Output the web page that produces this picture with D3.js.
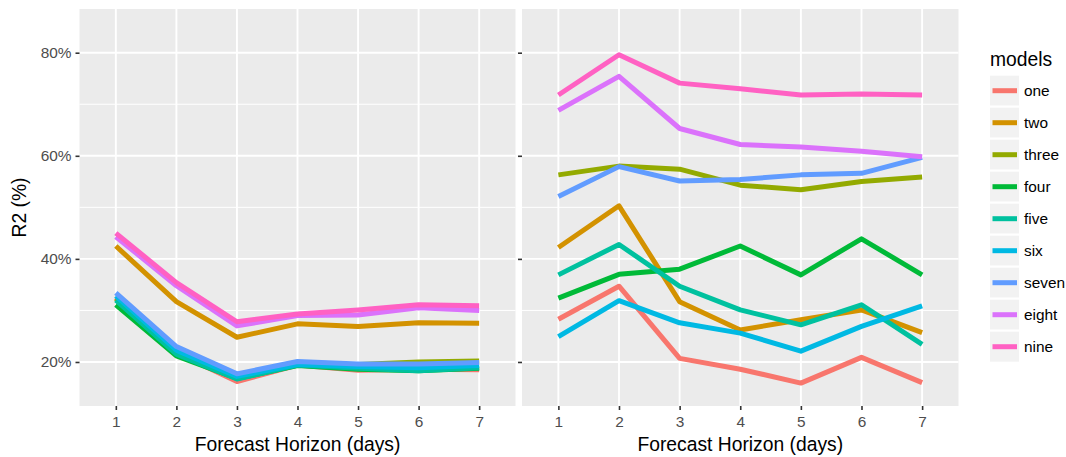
<!DOCTYPE html>
<html><head><meta charset="utf-8">
<script src="https://cdn.jsdelivr.net/npm/d3@7"></script>
<style>body{margin:0;background:#fff}svg{display:block}text{font-family:"Liberation Sans",Arial,sans-serif}</style>
</head><body><svg id="c" width="1066" height="457"></svg>
<script>
const horizons = [1,2,3,4,5,6,7];
const models = ["one","two","three","four","five","six","seven","eight","nine"];
const colors = ["#F8766D","#D39200","#93AA00","#00BA38","#00C19F","#00B9E3","#619CFF","#DB72FB","#FF61C3"];
const yTicks = [20,40,60,80];
const yMinor = [30,50,70];
// left panel values (%)
const left_one   = [32.5,21.8,16.2,19.4,18.4,18.6,18.5];
const left_two   = [42.5,31.7,24.8,27.4,26.9,27.6,27.5];
const left_three = [32.3,22.0,17.0,19.6,19.5,20.0,20.2];
const left_four  = [31.1,21.2,16.8,19.3,18.6,18.3,18.8];
const left_five  = [32.0,21.5,16.7,19.4,18.8,18.3,18.9];
const left_six   = [32.8,22.3,17.2,19.5,19.1,18.9,19.3];
const left_seven = [33.4,23.0,17.7,20.1,19.6,19.6,19.9];
const left_eight = [44.3,34.8,27.0,29.0,29.1,30.5,30.0];
const left_nine  = [45.0,35.4,27.8,29.3,30.1,31.1,30.9];
// right panel values (%)
const right_one   = [28.3,34.7,20.7,18.6,15.9,20.9,16.0];
const right_two   = [42.2,50.3,31.7,26.2,28.2,30.1,25.7];
const right_three = [56.3,58.0,57.4,54.3,53.4,55.0,55.9];
const right_four  = [32.4,37.0,38.0,42.5,36.9,43.9,36.9];
const right_five  = [36.9,42.8,34.7,30.1,27.2,31.1,23.4];
const right_six   = [24.9,31.9,27.6,25.6,22.1,26.9,30.9];
const right_seven = [52.1,57.9,55.1,55.4,56.3,56.6,59.7];
const right_eight = [68.8,75.4,65.3,62.2,61.7,60.9,59.8];
const right_nine  = [71.8,79.6,74.1,73.0,71.8,72.0,71.8];

const leftSeries = [left_one,left_two,left_three,left_four,left_five,left_six,left_seven,left_eight,left_nine];
const rightSeries = [right_one,right_two,right_three,right_four,right_five,right_six,right_seven,right_eight,right_nine];

const svg = d3.select("#c");
const pTop = 9, pBottom = 406;
const y = d3.scaleLinear().domain([11.46, 88.48]).range([pBottom, pTop]);
const panels = [{x0:79.5,x1:515.5,data:leftSeries,ticks:true},{x0:522,x1:958.5,data:rightSeries,ticks:false}];

panels.forEach(p => {
  const x = d3.scaleLinear().domain([0.4,7.6]).range([p.x0,p.x1]);
  const g = svg.append("g");
  g.append("rect").attr("x",p.x0).attr("y",pTop).attr("width",p.x1-p.x0).attr("height",pBottom-pTop).attr("fill","#EBEBEB");
  g.selectAll(".ym").data(yMinor).join("line").attr("x1",p.x0).attr("x2",p.x1)
    .attr("y1",d=>y(d)).attr("y2",d=>y(d)).attr("stroke","#fff").attr("stroke-width",1);
  g.selectAll(".yM").data(yTicks).join("line").attr("x1",p.x0).attr("x2",p.x1)
    .attr("y1",d=>y(d)).attr("y2",d=>y(d)).attr("stroke","#fff").attr("stroke-width",1.9);
  g.selectAll(".xM").data(horizons).join("line").attr("y1",pTop).attr("y2",pBottom)
    .attr("x1",d=>x(d)).attr("x2",d=>x(d)).attr("stroke","#fff").attr("stroke-width",1.9);
  const line = d3.line().x((d,i)=>x(horizons[i])).y(d=>y(d));
  p.data.forEach((s,i)=>{
    g.append("path").attr("d",line(s)).attr("fill","none").attr("stroke",colors[i])
      .attr("stroke-width",5).attr("stroke-linejoin","round").attr("stroke-linecap","butt");
  });
  // x axis
  const xa = svg.append("g").attr("transform",`translate(0,${pBottom})`)
    .call(d3.axisBottom(x).tickValues(horizons).tickSize(4).tickPadding(4));
  xa.select(".domain").remove();
  xa.selectAll("line").attr("stroke","#333").attr("stroke-width",1.6);
  xa.selectAll("text").attr("fill","#4D4D4D").style("font-size","15.4px").attr("dy","0.85em");
  svg.append("text").attr("x",(p.x0+p.x1)/2).attr("y",450.5).attr("text-anchor","middle")
    .style("font-size","19.3px").attr("fill","#000").text("Forecast Horizon (days)");
  // y axis
  const ya = svg.append("g").attr("transform",`translate(${p.x0},0)`)
    .call(d3.axisLeft(y).tickValues(yTicks).tickSize(4).tickPadding(4).tickFormat(d=>d+"%"));
  ya.select(".domain").remove();
  ya.selectAll("line").attr("stroke","#333").attr("stroke-width",1.6);
  ya.selectAll("text").attr("fill","#4D4D4D").style("font-size","15.4px");
  if(!p.ticks) ya.selectAll("text").remove();
});

svg.append("text").attr("transform",`translate(25.5,${(pTop+pBottom)/2}) rotate(-90)`)
  .attr("text-anchor","middle").style("font-size","19.3px").attr("fill","#000").text("R2 (%)");

// legend
const lg = svg.append("g");
lg.append("text").attr("x",990).attr("y",66).style("font-size","19.3px").text("models");
models.forEach((m,i)=>{
  const cy = 90.7 + 32*i;
  lg.append("rect").attr("x",989).attr("y",cy-16).attr("width",31).attr("height",32)
    .attr("fill","#F2F2F2").attr("stroke","#fff").attr("stroke-width",2);
  lg.append("line").attr("x1",992.5).attr("x2",1017).attr("y1",cy).attr("y2",cy)
    .attr("stroke",colors[i]).attr("stroke-width",5);
  lg.append("text").attr("x",1024).attr("y",cy).attr("dy","0.35em").style("font-size","15.4px")
    .attr("fill","#000").text(m);
});
</script></body></html>
